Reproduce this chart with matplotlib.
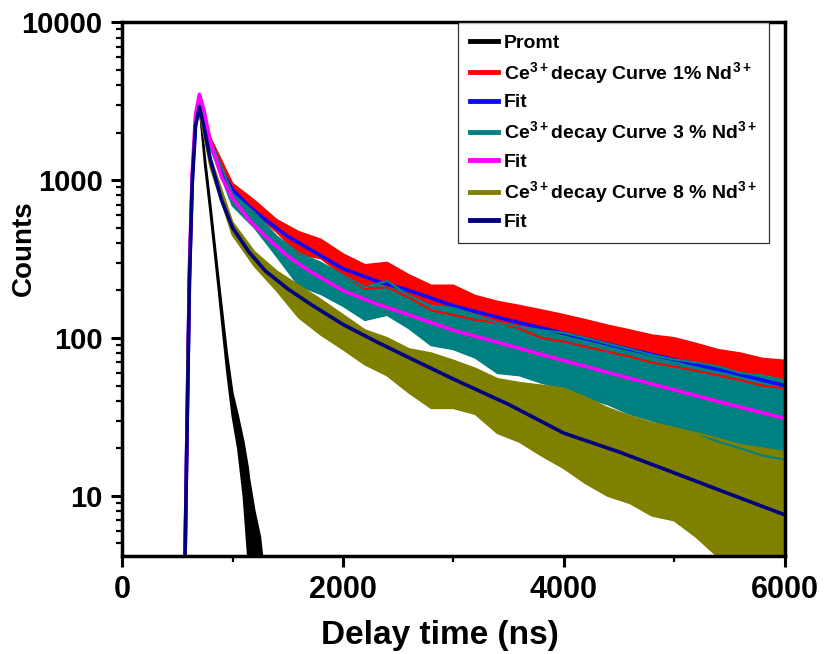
import matplotlib
matplotlib.use('Agg')
import matplotlib.pyplot as plt
from matplotlib.ticker import FixedLocator, LogLocator, NullFormatter

plt.rcParams['font.family'] = ['Liberation Sans', 'DejaVu Sans']
plt.rcParams['font.weight'] = 'bold'
plt.rcParams['mathtext.fontset'] = 'custom'
plt.rcParams['mathtext.rm'] = 'Liberation Sans:bold'
plt.rcParams['mathtext.bf'] = 'Liberation Sans:bold'
plt.rcParams['mathtext.default'] = 'bf'

# --- prompt (instrument response), upper / lower edge of the noisy trace
t_promt = [570, 600, 635, 665, 700, 750, 800, 870, 950, 1000, 1050, 1100, 1140, 1150, 1200, 1250, 1270]
promt_hi = [4, 150, 1000, 2300, 3000, 1400, 700, 250, 80, 45, 32, 22, 15, 13, 8, 5.5, 4.1]
promt_lo = [4, 150, 1000, 2300, 3000, 1250, 620, 215, 62, 32, 20, 10, 4.2, 4.1, 4.1, 4.1, 4.1]

# --- measured decay curves (noise band edges)
t_data = [570, 600, 635, 665, 700, 800, 1000, 1200, 1400, 1600, 1800, 2000, 2200, 2400,
          2600, 2800, 3000, 3200, 3400, 3600, 3800, 4000, 4200, 4400, 4600, 4800,
          5000, 5200, 5400, 5600, 5800, 6000]
nd1_hi = [4, 150, 1000, 2300, 3000, 1850, 950, 740, 560, 470, 420, 340, 290, 300,
          250, 215, 215, 185, 170, 160, 150, 140, 130, 120, 112, 104,
          100, 92, 84, 80, 74, 72]
nd1_lo = [4, 150, 1000, 2300, 2800, 1650, 830, 620, 470, 340, 320, 250, 205, 210,
          180, 150, 140, 130, 125, 115, 100, 95, 88, 82, 76, 70,
          66, 62, 58, 54, 50, 48]
nd3_hi = [4, 160, 1100, 2600, 3400, 1800, 820, 620, 440, 345, 300, 250, 210, 230,
          185, 160, 155, 140, 125, 118, 112, 108, 100, 92, 85, 78,
          73, 70, 66, 60, 58, 54]
nd3_lo = [4, 160, 1100, 2600, 3200, 1600, 690, 500, 330, 215, 190, 160, 130, 140,
          115, 90, 85, 75, 60, 58, 52, 48, 42, 38, 33, 30,
          27, 25, 22, 20, 18, 17]
nd8_hi = [4, 140, 950, 2200, 2900, 1400, 540, 350, 265, 215, 175, 140, 112, 100,
          85, 80, 72, 64, 55, 52, 50, 48, 42, 36, 32, 29,
          27, 25, 23, 21, 20, 19]
nd8_lo = [4, 140, 950, 2200, 2700, 1200, 450, 285, 200, 135, 105, 85, 68, 58,
          45, 36, 36, 33, 25, 22, 18, 15, 12, 10, 9, 7.5,
          7, 5.5, 4.1, 4.1, 4.1, 4.1]

# --- fitted curves
t_fit = [570, 590, 610, 635, 665, 700, 740, 800, 900, 1000, 1150, 1300, 1500, 1700,
         2000, 2300, 2600, 3000, 3500, 4000, 4500, 5000, 5500, 6000]
fit1 = [4, 33, 250, 1000, 2300, 3000, 2500, 1750, 1150, 870, 680, 560, 440, 365,
        275, 230, 200, 160, 130, 107, 88, 73, 61, 50]
fit3 = [4, 35, 280, 1100, 2600, 3500, 2800, 1750, 1050, 770, 560, 440, 330, 265,
        200, 165, 140, 112, 90, 72, 58, 47, 38, 31]
fit8 = [4, 30, 230, 950, 2200, 2900, 2200, 1340, 750, 500, 350, 265, 205, 165,
        122, 95, 75, 55, 38, 25, 19, 14, 10.3, 7.6]

fig = plt.figure(figsize=(8.25, 6.54), dpi=100)
ax = fig.add_axes([0.148, 0.150, 0.803, 0.816])

def band(t, hi, lo, color, label):
    ax.fill_between(t, lo, hi, color=color, lw=0)
    ax.plot(t, hi, color=color, lw=1.5, label=label)
    ax.plot(t, lo, color=color, lw=1.5)

band(t_promt, promt_hi, promt_lo, 'black', 'Promt')
band(t_data, nd1_hi, nd1_lo, '#ff0000', 'Ce$^{3+}$decay Curve 1% Nd$^{3+}$')
ax.plot(t_fit, fit1, color='#0a0aff', lw=2.6, label='Fit')
band(t_data, nd3_hi, nd3_lo, '#008080', 'Ce$^{3+}$decay Curve 3 % Nd$^{3+}$')
ax.plot(t_fit, fit3, color='#ff00ff', lw=2.6, label='Fit')
band(t_data, nd8_hi, nd8_lo, '#808000', 'Ce$^{3+}$decay Curve 8 % Nd$^{3+}$')
ax.plot(t_fit, fit8, color='#000080', lw=2.6, label='Fit')

ax.set_yscale('log')
ax.set_xlim(0, 6000)
ax.set_ylim(4.17, 10000)

ax.xaxis.set_major_locator(FixedLocator([0, 2000, 4000, 6000]))
ax.xaxis.set_minor_locator(FixedLocator([1000, 3000, 5000]))
ax.yaxis.set_major_locator(FixedLocator([10, 100, 1000, 10000]))
ax.yaxis.set_minor_locator(LogLocator(base=10, subs=range(2, 10)))
ax.yaxis.set_minor_formatter(NullFormatter())
ax.set_yticklabels(['10', '100', '1000', '10000'])

ax.tick_params(which='major', direction='out', length=8, width=2.2, labelsize=22, pad=6)
ax.tick_params(axis='y', which='major', labelsize=21)
ax.tick_params(which='minor', direction='out', length=4, width=1.6)
ax.tick_params(top=False, right=False)
for lab in ax.get_xticklabels() + ax.get_yticklabels():
    lab.set_fontweight('bold')

for s in ax.spines.values():
    s.set_linewidth(2.5)

ax.set_xlabel('Delay time (ns)', fontsize=24, fontweight='bold')
ax.xaxis.set_label_coords(0.48, -0.12)
ax.set_ylabel('Counts', fontsize=20, fontweight='bold')
ax.yaxis.set_label_coords(-0.128, 0.577)

leg = ax.legend(loc='upper left', bbox_to_anchor=(0.507, 1.0), borderaxespad=0,
                fontsize=14, frameon=True, fancybox=False, edgecolor='black',
                handlelength=1.45, handletextpad=0.3, labelspacing=0.42,
                borderpad=0.6)
leg.get_frame().set_linewidth(0.9)
for line in leg.get_lines():
    line.set_linewidth(3.5)

plt.savefig('out.png', dpi=100)
